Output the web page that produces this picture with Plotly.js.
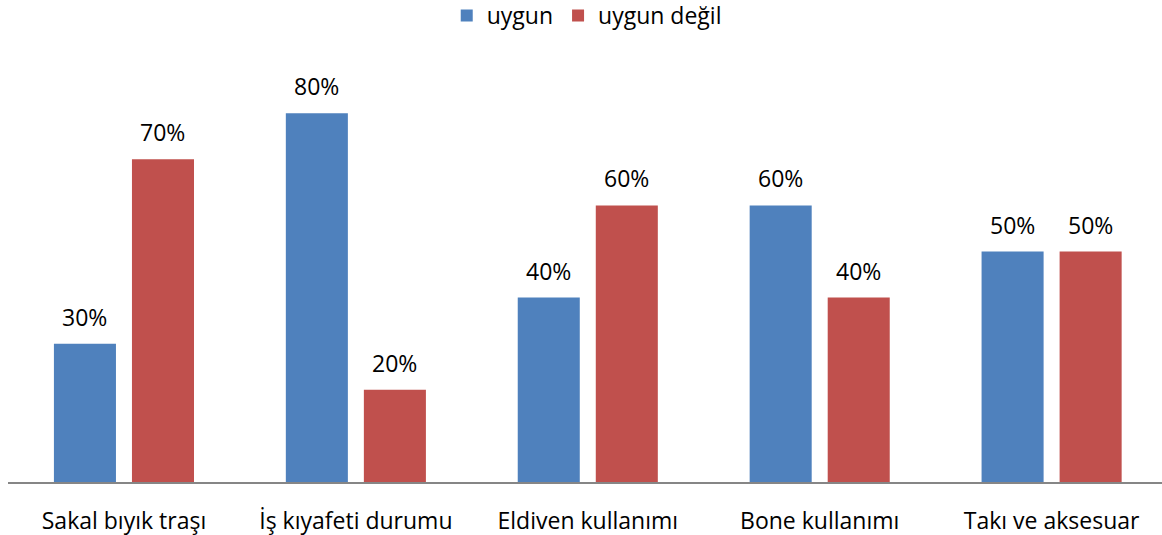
<!DOCTYPE html>
<html>
<head>
<meta charset="utf-8">
<script src="https://cdn.plot.ly/plotly-3.0.1.min.js"></script>
<style>html,body{margin:0;padding:0;background:#fff;}#chart{width:1162px;height:535px;}</style>
</head>
<body>
<div id="chart"></div>
<script>
var categories = ["Sakal bıyık traşı", "İş kıyafeti durumu", "Eldiven kullanımı", "Bone kullanımı", "Takı ve aksesuar"];
var seriesNames = ["uygun", "uygun değil"];
var uygun = [0.30, 0.80, 0.40, 0.60, 0.50];
var uygunDegil = [0.70, 0.20, 0.60, 0.40, 0.50];
var colors = ["#4F81BD", "#C0504D"];

var FONT = "Open Sans, Lato, sans-serif";
var FS = 23;

var traces = [uygun, uygunDegil].map(function (vals, i) {
  return {
    type: "bar",
    name: seriesNames[i],
    x: categories,
    y: vals,
    marker: {color: colors[i]},
    hoverinfo: "skip"
  };
});

var annotations = [];
[uygun, uygunDegil].forEach(function (vals, i) {
  vals.forEach(function (v, j) {
    annotations.push({
      x: categories[j], y: v, xref: "x", yref: "y",
      text: Math.round(v * 100) + "%",
      showarrow: false,
      xshift: i === 0 ? -39 : 39,
      yshift: 27,
      yanchor: "middle",
      font: {family: FONT, size: FS, color: "#000"}
    });
  });
});

var layout = {
  width: 1162, height: 535,
  margin: {l: 8, r: 0, t: 21, b: 53, autoexpand: false},
  paper_bgcolor: "#fff", plot_bgcolor: "#fff",
  barmode: "group",
  bargap: 0.327,
  bargroupgap: 0.205,
  font: {family: FONT, size: FS, color: "#000"},
  showlegend: true,
  legend: {
    orientation: "h", x: 0.5015, xanchor: "center", y: 1.012, yanchor: "middle",
    font: {family: FONT, size: FS, color: "#000"},
    itemwidth: 30, tracegroupgap: 0
  },
  xaxis: {
    type: "category",
    range: [-0.5, 4.476],
    showline: true, linecolor: "#868686", linewidth: 2,
    showgrid: false, zeroline: false,
    ticks: "outside", ticklen: 17, tickcolor: "rgba(0,0,0,0)",
    tickfont: {family: FONT, size: FS, color: "#000"},
    fixedrange: true
  },
  yaxis: {
    range: [0, 1],
    visible: false,
    showgrid: false, zeroline: false,
    fixedrange: true
  },
  annotations: annotations
};

Plotly.newPlot("chart", traces, layout, {displayModeBar: false, staticPlot: true});
</script>
</body>
</html>
